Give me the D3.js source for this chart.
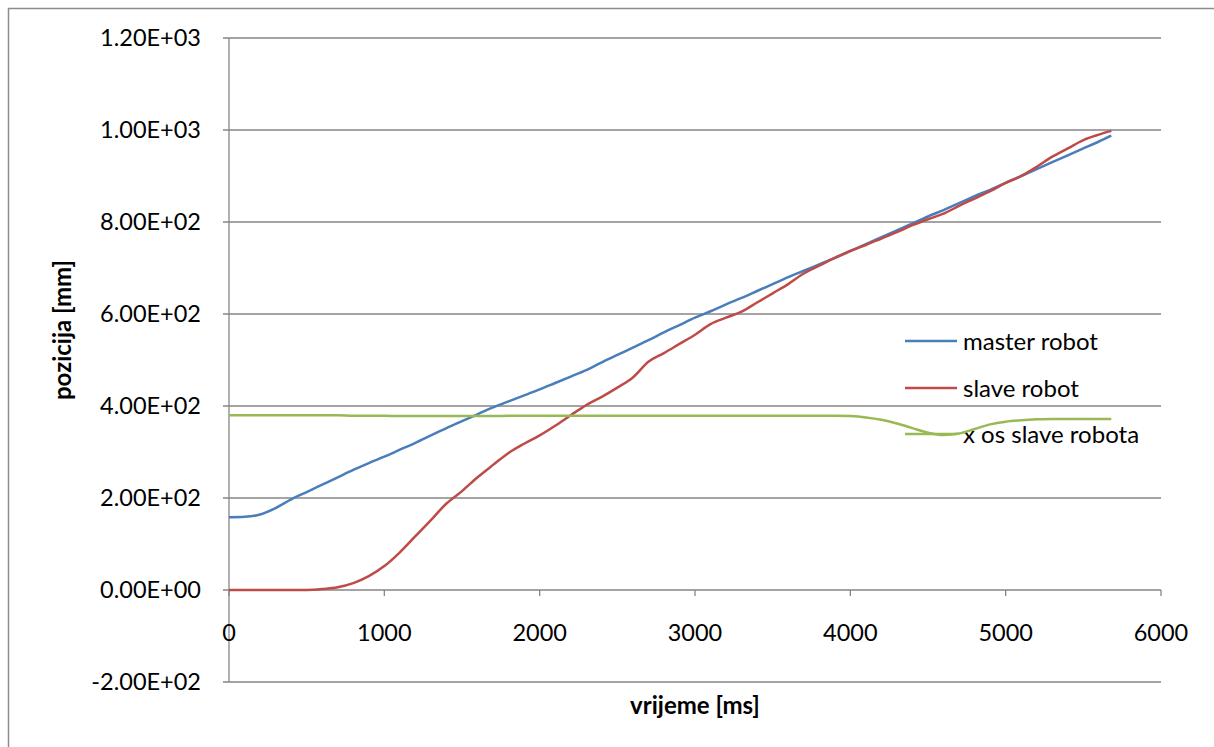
<!DOCTYPE html>
<html><head><meta charset="utf-8">
<script src="https://cdn.jsdelivr.net/npm/d3@7/dist/d3.min.js"></script>
<style>
html,body{margin:0;padding:0;background:#fff;}
svg{display:block;}
text{font-family:Lato,"Open Sans",sans-serif;fill:#000;}
</style></head><body>
<svg id="c" width="1214" height="747"></svg>
<script>
const times = [0,100,200,300,400,500,600,700,800,900,1000,1100,1200,1300,1400,1500,1600,1700,1800,1900,2000,2100,2200,2300,2400,2500,2600,2700,2800,2900,3000,3100,3200,3300,3400,3500,3600,3700,3800,3900,4000,4100,4200,4300,4400,4500,4600,4700,4800,4900,5000,5100,5200,5300,5400,5500,5600,5680];
const masterRobot = [158,159,164,178,197,213,229,245,261,276,290,305,320,336,352,367,382,397,410,423,436,450,464,478,495,511,527,543,560,576,592,606,621,635,650,665,680,694,708,722,737,752,767,782,797,812,826,841,856,870,885,900,915,930,945,960,975,988];
const slaveRobot = [0,0,0,0,0,0,2,6,15,30,52,82,117,152,188,215,245,272,298,318,336,357,380,402,420,440,462,496,515,535,555,578,592,605,625,645,665,688,705,722,737,750,764,778,793,806,818,835,851,867,885,900,920,942,960,978,990,998];
const xOsSlave = [380,380,380,380,380,380,380,380,379,379,379,378,378,378,378,378,378,378,379,379,379,379,379,379,379,379,379,379,379,379,379,379,379,379,379,379,379,379,379,379,378,375,370,362,352,342,337,340,350,360,366,369,371,372,372,372,372,372];
const seriesNames = ["master robot","slave robot","x os slave robota"];
const seriesColors = ["#4a7ebb","#be4b48","#98b954"];
const xTicks = [0,1000,2000,3000,4000,5000,6000];
const yTicks = [-200,0,200,400,600,800,1000,1200];
const yTickLabels = ["-2.00E+02","0.00E+00","2.00E+02","4.00E+02","6.00E+02","8.00E+02","1.00E+03","1.20E+03"];
const xTitle = "vrijeme [ms]";
const yTitle = "pozicija [mm]";

const svg = d3.select("#c");
const x = d3.scaleLinear().domain([0,6000]).range([229,1161]);
const y = d3.scaleLinear().domain([-200,1200]).range([682,38]);
const grid = "#868686";

// outer frame
svg.append("rect").attr("x",8.5).attr("y",8.5).attr("width",1240).attr("height",760)
  .attr("fill","none").attr("stroke","#8c8c8c").attr("stroke-width",1.5);

// gridlines
svg.append("g").selectAll("line").data(yTicks).join("line")
  .attr("x1",223).attr("x2",x(6000)).attr("y1",d=>y(d)).attr("y2",d=>y(d))
  .attr("stroke",grid).attr("stroke-width",1.3);
// y axis line
svg.append("line").attr("x1",x(0)).attr("x2",x(0)).attr("y1",y(1200)).attr("y2",y(-200))
  .attr("stroke",grid).attr("stroke-width",1.3);
// x ticks
svg.append("g").selectAll("line").data(xTicks).join("line")
  .attr("x1",d=>x(d)).attr("x2",d=>x(d)).attr("y1",y(0)).attr("y2",y(0)+6)
  .attr("stroke",grid).attr("stroke-width",1.3);

// y tick labels
svg.append("g").selectAll("text").data(yTicks).join("text")
  .attr("x",201).attr("y",d=>y(d)).attr("dy","0.36em").attr("text-anchor","end")
  .attr("font-size",23.5).text((d,i)=>yTickLabels[i]);
// x tick labels
svg.append("g").selectAll("text").data(xTicks).join("text")
  .attr("x",d=>x(d)).attr("y",y(0)+43).attr("dy","0.36em").attr("text-anchor","middle")
  .attr("font-size",23.5).text(d=>d);

// axis titles
svg.append("text").attr("x",695).attr("y",705).attr("dy","0.36em").attr("text-anchor","middle")
  .attr("font-size",24).attr("font-weight","bold").text(xTitle);
svg.append("text").attr("transform","translate(62,330) rotate(-90)").attr("dy","0.36em")
  .attr("text-anchor","middle").attr("font-size",24).attr("font-weight","bold").text(yTitle);

// legend
const legY = [341,388,434];
const leg = svg.append("g");
seriesNames.forEach((n,i)=>{
  leg.append("line").attr("x1",905).attr("x2",957).attr("y1",legY[i]).attr("y2",legY[i])
    .attr("stroke",seriesColors[i]).attr("stroke-width",2.5);
  leg.append("text").attr("x",963).attr("y",legY[i]).attr("dy","0.36em").attr("font-size",24).text(n);
});

// lines
const series = [masterRobot, slaveRobot, xOsSlave];
const line = d3.line().x((d,i)=>x(times[i])).y(d=>y(d)).curve(d3.curveMonotoneX);
series.forEach((s,i)=>{
  svg.append("path").datum(s).attr("d",line).attr("fill","none")
    .attr("stroke",seriesColors[i]).attr("stroke-width",2.5).attr("stroke-linejoin","round");
});
</script>
</body></html>
